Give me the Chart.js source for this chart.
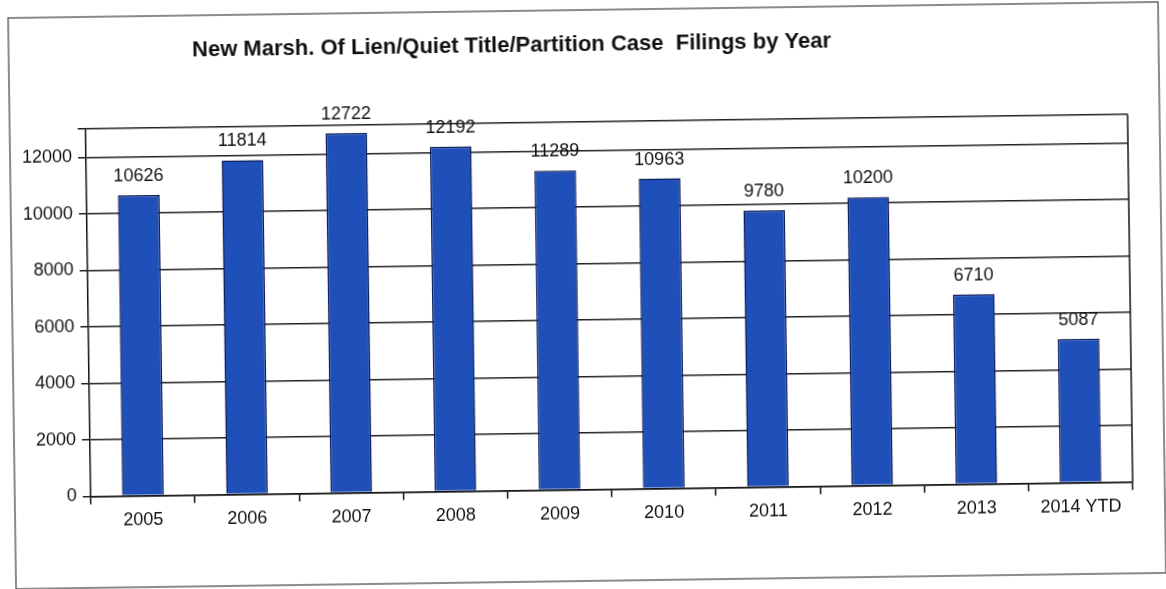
<!DOCTYPE html>
<html>
<head>
<meta charset="utf-8">
<script src="https://cdn.jsdelivr.net/npm/chart.js@4"></script>
<style>
  html, body { margin: 0; padding: 0; background: #fff; }
  #wrap { width: 1166px; height: 589px; transform: rotate(-0.8deg); }
</style>
</head>
<body>
<div id="wrap"><canvas id="filings" width="1166" height="589"></canvas></div>
<script>
// chart data
const years = ['2005', '2006', '2007', '2008', '2009', '2010', '2011', '2012', '2013', '2014 YTD'];
const filings = [10626, 11814, 12722, 12192, 11289, 10963, 9780, 10200, 6710, 5087];
const yTicks = [0, 2000, 4000, 6000, 8000, 10000, 12000, 13000];
const chartTitle = 'New Marsh. Of Lien/Quiet Title/Partition Case  Filings by Year';

const FONT = '"Liberation Sans", Arial, sans-serif';

// frame around the whole picture + right edge of plot + title
const decor = {
    id: 'decor',
    beforeDraw(chart) {
        const c = chart.ctx;
        c.save();
        c.strokeStyle = '#666';
        c.lineWidth = 1.5;
        c.strokeRect(12, 10, 1150, 571);
        c.fillStyle = '#111';
        c.font = 'bold 22px ' + FONT;
        c.textAlign = 'center';
        c.textBaseline = 'middle';
        c.fillText(chartTitle, 515, 45);
        c.restore();
    },
    afterDraw(chart) {
        const a = chart.chartArea;
        const c = chart.ctx;
        c.save();
        c.strokeStyle = '#111';
        c.lineWidth = 1.5;
        c.beginPath();
        c.moveTo(a.right, a.top);
        c.lineTo(a.right, a.bottom);
        c.stroke();
        c.restore();
    }
};

// numbers above each bar
const valueLabels = {
    id: 'valueLabels',
    afterDatasetsDraw(chart) {
        const c = chart.ctx;
        const meta = chart.getDatasetMeta(0);
        c.save();
        c.fillStyle = '#111';
        c.font = '18px ' + FONT;
        c.textAlign = 'center';
        c.textBaseline = 'bottom';
        meta.data.forEach((bar, i) => {
            c.fillText(String(filings[i]), bar.x, bar.y - 10);
        });
        c.restore();
    }
};

new Chart(document.getElementById('filings'), {
    type: 'bar',
    data: {
        labels: years,
        datasets: [{
            data: filings,
            backgroundColor: '#1f4fb8',
            borderColor: '#0b1c55',
            borderWidth: 1.5,
            categoryPercentage: 1,
            barPercentage: 0.4
        }]
    },
    options: {
        responsive: false,
        animation: false,
        layout: { padding: { left: 18, right: 36, top: 122, bottom: 58 } },
        plugins: {
            legend: { display: false },
            title: { display: false },
            tooltip: { enabled: false }
        },
        scales: {
            x: {
                grid: { offset: true, drawOnChartArea: false, drawTicks: true, tickLength: 8, color: '#111', lineWidth: 1.5 },
                border: { color: '#111', width: 1.5 },
                ticks: { color: '#111', font: { family: FONT, size: 18 }, padding: 6, maxRotation: 0 }
            },
            y: {
                min: 0,
                max: 13000,
                afterBuildTicks: scale => { scale.ticks = yTicks.map(v => ({ value: v })); },
                grid: { color: '#222', lineWidth: 1.5, tickLength: 8 },
                border: { color: '#111', width: 1.5 },
                ticks: {
                    color: '#111',
                    font: { family: FONT, size: 18 },
                    padding: 6,
                    callback: v => (v === 13000 ? '' : v)
                }
            }
        }
    },
    plugins: [decor, valueLabels]
});
</script>
</body>
</html>
